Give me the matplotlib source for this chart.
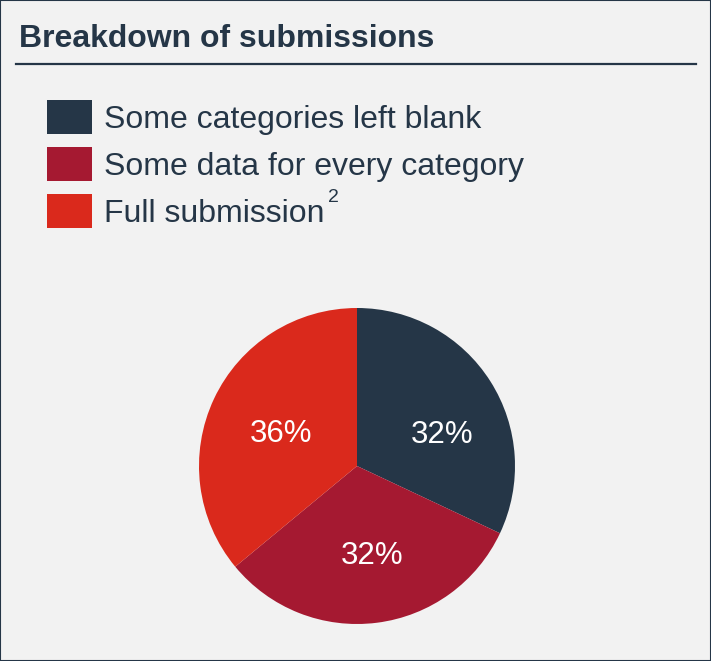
import matplotlib
matplotlib.use("Agg", force=True)
import matplotlib.pyplot as plt
from matplotlib.lines import Line2D
from matplotlib.patches import Rectangle

plt.rcParams['font.family'] = ['Liberation Sans', 'DejaVu Sans']

# data
categories = ["Some categories left blank", "Some data for every category", "Full submission"]
shares = [32, 32, 36]
colors = ["#253647", "#A51931", "#DA291C"]
title = "Breakdown of submissions"

W, H = 711, 661
bg = "#F2F2F2"
ink = "#253647"

fig = plt.figure(figsize=(W / 100, H / 100), dpi=100, facecolor=bg)

# outer border
fig.patches.append(Rectangle((0, 0), 1, 1, transform=fig.transFigure, fill=False,
                             edgecolor=ink, linewidth=1.5))

# title + rule
fig.text(19 / W, 1 - 39 / H, title, fontsize=23, fontweight="bold", color=ink,
         ha="left", va="center")
fig.add_artist(Line2D([16 / W, 696 / W], [1 - 64 / H, 1 - 64 / H],
                      transform=fig.transFigure, color=ink, linewidth=1.6))

# pie
cx, cy, r = 357, 466, 158
ax = fig.add_axes([(cx - r) / W, 1 - (cy + r) / H, 2 * r / W, 2 * r / H])
ax.set_facecolor(bg)
wedges, texts, autotexts = ax.pie(shares, colors=colors, startangle=90, counterclock=False,
                                  radius=1, autopct="%d%%", pctdistance=0.56,
                                  textprops=dict(color="white", fontsize=22.5))
# small nudges so the labels sit where the original ones do (pixels)
label_nudge = [(10, -16), (4, -2), (4, -6)]
for t, (dx, dy) in zip(autotexts, label_nudge):
    x, y = t.get_position()
    t.set_position((x + dx / r, y + dy / r))
ax.set_xlim(-1, 1)
ax.set_ylim(-1, 1)
ax.set_aspect("equal")
ax.axis("off")

# legend
leg = fig.legend(wedges, categories, loc="upper left",
                 bbox_to_anchor=(47 / W, 1 - 100 / H), frameon=False,
                 fontsize=23, handlelength=1.41, handleheight=1.24,
                 labelspacing=0.39, handletextpad=0.38, borderpad=0, borderaxespad=0)
for t in leg.get_texts():
    t.set_color(ink)

# superscript note marker
fig.text(333 / W, 1 - 197 / H, "2", fontsize=14, color=ink, ha="center", va="center")

fig.savefig("out.png", dpi=100, facecolor=bg)
